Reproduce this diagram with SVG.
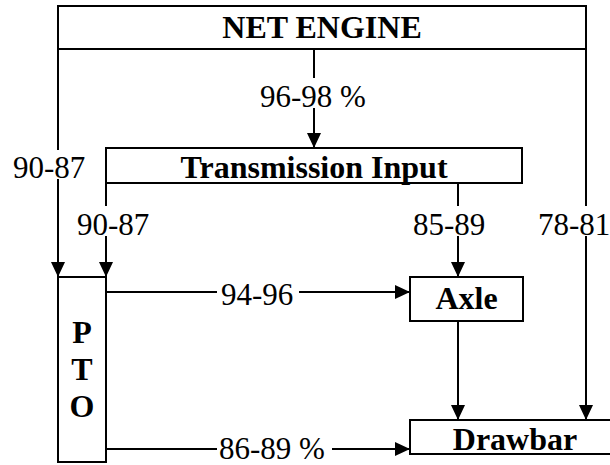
<svg xmlns="http://www.w3.org/2000/svg" width="610" height="465" viewBox="0 0 610 465">
<style>
.box{fill:#fff;stroke:#000;stroke-width:2}
.ln{fill:none;stroke:#000;stroke-width:2}
.nt{font-family:"Liberation Serif","Times New Roman",serif;font-weight:bold;font-size:32px;fill:#000}
.lb{font-family:"Liberation Serif","Times New Roman",serif;font-size:31px;fill:#000}
</style>
<defs>
<marker id="ah" markerUnits="userSpaceOnUse" markerWidth="15" markerHeight="14" refX="15" refY="7" orient="auto">
<path d="M0,0 L15,7 L0,14 z" fill="#000"/>
</marker>
</defs>
<rect width="610" height="465" fill="#fff"/>
<g id="connectors">
<path class="ln" d="M58,49 V150 M58,179 V277" marker-end="url(#ah)"/>
<path class="ln" d="M314,49 V78 M314,108 V148" marker-end="url(#ah)"/>
<path class="ln" d="M586,49 V206 M586,236 V420" marker-end="url(#ah)"/>
<path class="ln" d="M106,183 V206 M106,236 V277" marker-end="url(#ah)"/>
<path class="ln" d="M458,183 V206 M458,236 V277" marker-end="url(#ah)"/>
<path class="ln" d="M106,292 H217 M299,292 H410" marker-end="url(#ah)"/>
<path class="ln" d="M106,449 H217 M332,449 H410" marker-end="url(#ah)"/>
<path class="ln" d="M458,321 V420" marker-end="url(#ah)"/>
<text class="lb" x="13" y="178">90-87</text>
<text class="lb" x="260" y="107">96-98 %</text>
<text class="lb" x="538" y="235">78-81</text>
<text class="lb" x="77" y="235">90-87</text>
<text class="lb" x="413" y="235">85-89</text>
<text class="lb" x="221" y="305">94-96</text>
<text class="lb" x="219" y="459">86-89 %</text>
</g>
<g id="net-engine">
<rect class="box" x="58" y="6" width="528" height="43"/>
<text class="nt" x="322" y="38" text-anchor="middle">NET ENGINE</text>
</g>
<g id="transmission-input">
<rect class="box" x="106" y="148" width="416" height="35"/>
<text class="nt" x="314" y="178" text-anchor="middle">Transmission Input</text>
</g>
<g id="pto">
<rect class="box" x="58" y="277" width="48" height="185"/>
<text class="nt" x="82" y="343" text-anchor="middle">P</text>
<text class="nt" x="82" y="380" text-anchor="middle">T</text>
<text class="nt" x="82" y="417" text-anchor="middle">O</text>
</g>
<g id="axle">
<rect class="box" x="410" y="277" width="113" height="44"/>
<text class="nt" x="466.5" y="309" text-anchor="middle">Axle</text>
</g>
<g id="drawbar">
<rect class="box" x="410" y="420" width="212" height="34"/>
<text class="nt" x="515" y="450" text-anchor="middle">Drawbar</text>
</g>
</svg>
